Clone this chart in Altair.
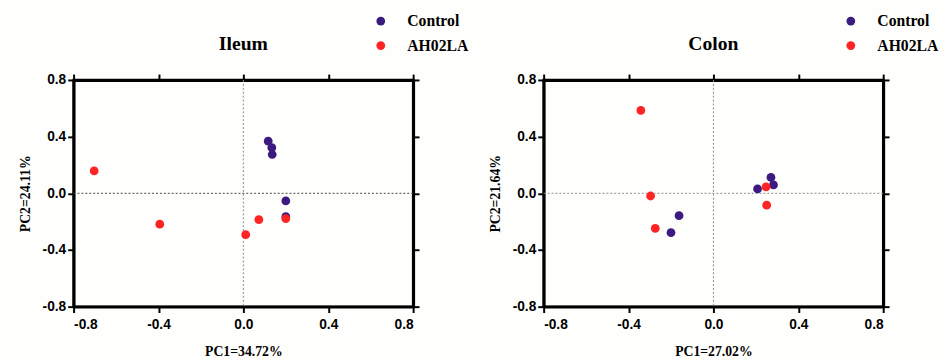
import altair as alt
import pandas as pd

groups = ["Control", "AH02LA"]
colors = ["#3d1a80", "#ff2424"]

ileum_control_pc1 = [0.117, 0.134, 0.136, 0.200, 0.200]
ileum_control_pc2 = [0.368, 0.322, 0.274, -0.054, -0.165]
ileum_ah02la_pc1 = [-0.703, -0.394, 0.011, 0.073, 0.200]
ileum_ah02la_pc2 = [0.158, -0.218, -0.292, -0.186, -0.179]

colon_control_pc1 = [-0.200, -0.162, 0.208, 0.271, 0.283]
colon_control_pc2 = [-0.278, -0.158, 0.031, 0.112, 0.059]
colon_ah02la_pc1 = [-0.342, -0.296, -0.274, 0.248, 0.251]
colon_ah02la_pc2 = [0.585, -0.019, -0.248, 0.045, -0.084]

tick_values = [-0.8, -0.4, 0.0, 0.4, 0.8]
axis_domain = [-0.8, 0.8]


def make_df(c1, c2, a1, a2):
    return pd.DataFrame({
        "pc1": c1 + a1,
        "pc2": c2 + a2,
        "group": ["Control"] * len(c1) + ["AH02LA"] * len(a1),
    })


label_expr = "(datum.value < 0 ? '-' : '') + format(abs(datum.value), '.1f')"


def frame_axis(orient, **kw):
    return alt.Axis(
        orient=orient, values=tick_values,
        domainWidth=3, domainColor="#000000",
        tickSize=6, tickWidth=2, tickColor="#000000",
        labelFont="Liberation Sans", labelFontWeight="bold",
        labelFontSize=14, labelColor="#000000",
        titleFont="Liberation Serif", titleFontWeight="bold",
        titleFontSize=14, titleColor="#000000",
        **kw,
    )


def panel(df, title, xtitle, ytitle, hcolor):
    sc = alt.Scale(domain=axis_domain, nice=False, zero=False)
    zero_df = pd.DataFrame({"v": [0.0]})
    vrule = alt.Chart(zero_df).mark_rule(color="#8a8a8a", strokeDash=[2, 2]).encode(
        x=alt.X("v:Q", scale=sc, axis=frame_axis("top", labels=False, title=None, grid=False))
    )
    hrule = alt.Chart(zero_df).mark_rule(color=hcolor, strokeDash=[2, 2]).encode(
        y=alt.Y("v:Q", scale=sc, axis=frame_axis("right", labels=False, title=None, grid=False))
    )
    pts = alt.Chart(df).mark_circle(size=80, opacity=1).encode(
        x=alt.X("pc1:Q", scale=sc,
                axis=frame_axis("bottom", title=xtitle, labelExpr=label_expr,
                                labelPadding=5, titlePadding=14, grid=False)),
        y=alt.Y("pc2:Q", scale=sc,
                axis=frame_axis("left", title=ytitle, labelExpr=label_expr,
                                labelPadding=2, titlePadding=10, grid=False)),
        color=alt.Color(
            "group:N",
            scale=alt.Scale(domain=groups, range=colors),
            legend=alt.Legend(
                orient="none", legendX=305, legendY=-68, title=None,
                symbolType="circle", symbolSize=80, symbolOpacity=1,
                symbolStrokeWidth=0,
                labelFont="Liberation Serif", labelFontWeight="bold",
                labelFontSize=16, labelColor="black", labelOffset=19,
                rowPadding=9, padding=0,
            ),
        ),
    )
    return alt.layer(vrule, hrule, pts).properties(
        width=346, height=231,
        title=alt.TitleParams(title, font="Liberation Serif", fontSize=20,
                              fontWeight="bold", color="black", anchor="middle",
                              offset=-41),
    )


left = panel(make_df(ileum_control_pc1, ileum_control_pc2, ileum_ah02la_pc1, ileum_ah02la_pc2),
             "Ileum", "PC1=34.72%", "PC2=24.11%", "#444444")
right = panel(make_df(colon_control_pc1, colon_control_pc2, colon_ah02la_pc1, colon_ah02la_pc2),
              "Colon", "PC1=27.02%", "PC2=21.64%", "#8a8a8a")

chart = alt.hconcat(left, right, spacing=16).resolve_scale(color="independent").properties(
    background="#fefefc",
    padding={"left": 17, "top": 8, "right": 5, "bottom": 2},
).configure_view(stroke="#000000", strokeWidth=2.5)

chart.save("out.html", embed_options={"renderer": "svg", "actions": False})
